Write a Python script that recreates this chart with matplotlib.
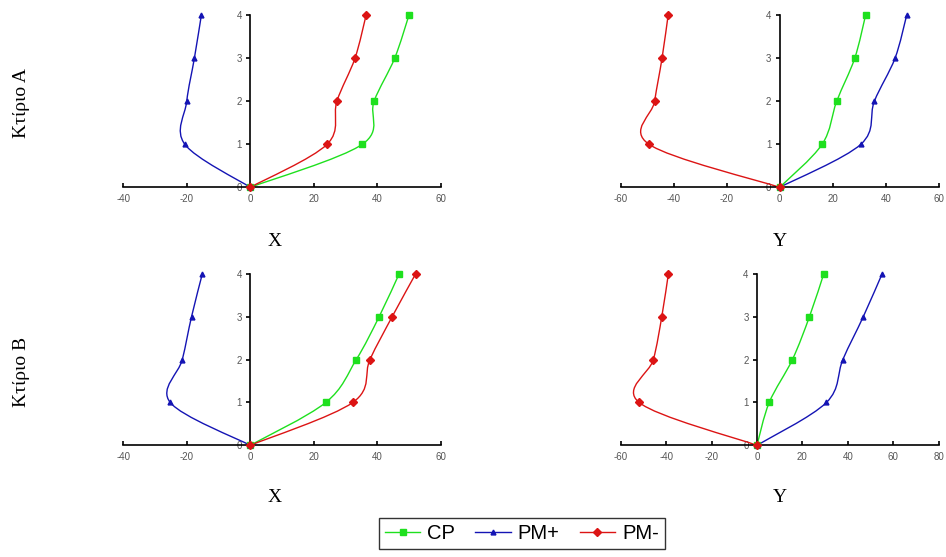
import matplotlib
matplotlib.use("Agg")
import matplotlib.pyplot as plt
import numpy as np
from matplotlib.path import Path
from matplotlib.patches import PathPatch
from matplotlib.lines import Line2D

plt.rcParams["axes.unicode_minus"] = False

# storey levels (0 = ground)
levels = [0, 1, 2, 3, 4]

# building A, direction X
a_x_cp = [0, 35.3, 39.0, 45.5, 50.0]
a_x_pmp = [0, -20.6, -20.0, -17.6, -15.4]
a_x_pmm = [0, 24.2, 27.3, 33.0, 36.5]

# building A, direction Y
a_y_cp = [0, 16.0, 21.5, 28.3, 32.4]
a_y_pmp = [0, 30.6, 35.7, 43.5, 47.9]
a_y_pmm = [0, -49.3, -47.2, -44.4, -42.1]

# building B, direction X
b_x_cp = [0, 23.8, 33.4, 40.6, 46.9]
b_x_pmp = [0, -25.2, -21.4, -18.5, -15.1]
b_x_pmm = [0, 32.3, 37.7, 44.7, 52.1]

# building B, direction Y
b_y_cp = [0, 5.4, 15.6, 23.1, 29.4]
b_y_pmp = [0, 30.6, 37.8, 46.8, 55.1]
b_y_pmm = [0, -51.9, -45.6, -41.9, -39.0]

series_names = ["CP", "PM+", "PM-"]
colors = ["#1ee01e", "#1414b4", "#dc1414"]
markers = ["s", "^", "D"]
msizes = [4.5, 3.5, 3.8]

panels = [
    # (values, xlim, xticks, axes rect)
    ([a_x_cp, a_x_pmp, a_x_pmm], (-40, 60), [-40, -20, 0, 20, 40, 60], [0.1303, 0.6637, 0.3355, 0.3088]),
    ([a_y_cp, a_y_pmp, a_y_pmm], (-60, 60), [-60, -40, -20, 0, 20, 40, 60], [0.6561, 0.6637, 0.3362, 0.3088]),
    ([b_x_cp, b_x_pmp, b_x_pmm], (-40, 60), [-40, -20, 0, 20, 40, 60], [0.1303, 0.2005, 0.3355, 0.3076]),
    ([b_y_cp, b_y_pmp, b_y_pmm], (-60, 80), [-60, -40, -20, 0, 20, 40, 60, 80], [0.6561, 0.2005, 0.3362, 0.3080]),
]


def smooth_path(xs, ys):
    # excel-like smoothed line: catmull-rom converted to cubic bezier
    pts = np.column_stack([xs, ys]).astype(float)
    n = len(pts)
    verts = [pts[0]]
    codes = [Path.MOVETO]
    for i in range(n - 1):
        p_prev = pts[max(i - 1, 0)]
        p0 = pts[i]
        p1 = pts[i + 1]
        p_next = pts[min(i + 2, n - 1)]
        c1 = p0 + (p1 - p_prev) / 6.0
        c2 = p1 - (p_next - p0) / 6.0
        verts += [c1, c2, p1]
        codes += [Path.CURVE4] * 3
    return Path(verts, codes)


fig = plt.figure(figsize=(9.46, 5.57), dpi=100)

for values, xlim, xticks, rect in panels:
    ax = fig.add_axes(rect)
    for k in range(3):
        xs = values[k]
        patch = PathPatch(smooth_path(xs, levels), facecolor="none",
                          edgecolor=colors[k], lw=1.0, clip_on=False, zorder=2)
        ax.add_patch(patch)
        ax.plot(xs, levels, linestyle="none", marker=markers[k], ms=msizes[k],
                color=colors[k], clip_on=False, zorder=3)
    ax.set_xlim(*xlim)
    ax.set_ylim(0, 4)
    ax.set_xticks(xticks)
    ax.set_yticks([0, 1, 2, 3, 4])
    ax.spines["top"].set_visible(False)
    ax.spines["right"].set_visible(False)
    ax.spines["left"].set_position(("data", 0))
    ax.spines["left"].set_linewidth(1.2)
    ax.spines["bottom"].set_linewidth(1.2)
    ax.tick_params(axis="x", direction="in", length=3, width=1.2, labelsize=7,
                   labelcolor="#555555", pad=5)
    ax.tick_params(axis="y", direction="out", length=3, width=1.2, labelsize=7,
                   labelcolor="#555555", pad=3)
    for lab in ax.get_xticklabels() + ax.get_yticklabels():
        lab.set_fontfamily("Liberation Sans")
    ax.patch.set_visible(False)

serif = "Liberation Serif"
fig.text(275 / 946, 1 - 241 / 557, "X", fontsize=14, family=serif, ha="center", va="center")
fig.text(780 / 946, 1 - 241 / 557, "Y", fontsize=14, family=serif, ha="center", va="center")
fig.text(275 / 946, 1 - 498 / 557, "X", fontsize=14, family=serif, ha="center", va="center")
fig.text(780 / 946, 1 - 498 / 557, "Y", fontsize=14, family=serif, ha="center", va="center")
fig.text(22 / 946, 1 - 103 / 557, "Κτίριο Α", fontsize=14, family=serif, rotation=90,
         ha="center", va="center")
fig.text(22 / 946, 1 - 372 / 557, "Κτίριο Β", fontsize=14, family=serif, rotation=90,
         ha="center", va="center")

handles = [Line2D([], [], color=colors[k], marker=markers[k], ms=msizes[k], lw=1.0)
           for k in range(3)]
leg = fig.legend(handles, series_names, loc="upper left",
                 bbox_to_anchor=(379 / 946, 1 - 518 / 557), ncol=3,
                 prop={"family": "Liberation Sans", "size": 14.5},
                 frameon=True, fancybox=False, handlelength=1.75,
                 handletextpad=0.35, columnspacing=1.0, borderpad=0.3,
                 borderaxespad=0)
leg.get_frame().set_edgecolor("black")
leg.get_frame().set_linewidth(1.0)

fig.savefig("out.png", dpi=100)
